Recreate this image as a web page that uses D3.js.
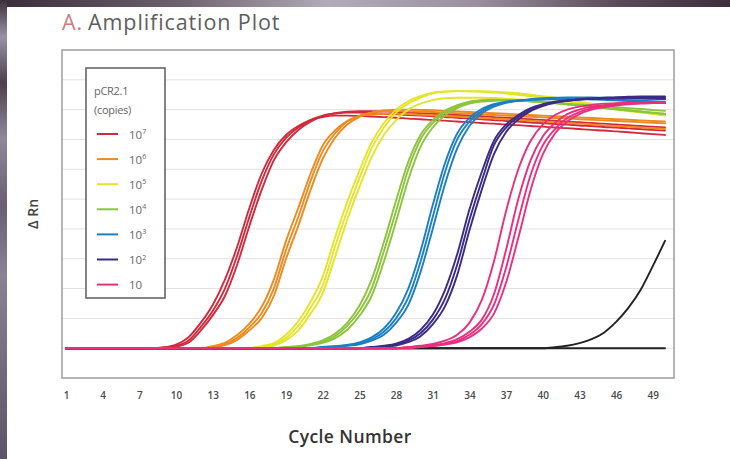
<!DOCTYPE html>
<html><head><meta charset="utf-8">
<script src="https://cdn.jsdelivr.net/npm/d3@7"></script>
<style>html,body{margin:0;padding:0;background:#fff;}svg{display:block;}</style>
</head><body>
<svg id="chart" width="730" height="459"></svg>
<script>
// ---------- data ----------
const cycles = d3.range(1, 51);
const xTicks = [1,4,7,10,13,16,19,22,25,28,31,34,37,40,43,46,49];
const legendTitle = ["pCR2.1", "(copies)"];
const legendBase = ["10","10","10","10","10","10","10"];
const legendExp  = ["7","6","5","4","3","2",""];
const seriesNames = ["1e7","1e6","1e5","1e4","1e3","1e2","1e1"];
const seriesColors = ["#d02a3c","#ee8a1e","#e4e42a","#8cc43c","#1b7fc4","#3b2b86","#e8307e"];
const ntcColor = "#222222";

const red1 = [0,0,0,0,0,0,0,0,0.02,0.08,0.25,0.7,1.25,2.0,3.1,4.4,5.6,6.5,7.05,7.4,7.65,7.8,7.87,7.9,7.9,7.88,7.86,7.84,7.82,7.8,7.78,7.75,7.73,7.7,7.68,7.65,7.62,7.6,7.57,7.55,7.52,7.5,7.47,7.45,7.42,7.4,7.37,7.35,7.32,7.3];
const red2 = [0,0,0,0,0,0,0,0,0.03,0.12,0.36,0.84,1.45,2.3,3.4,4.7,5.85,6.65,7.15,7.45,7.65,7.75,7.8,7.8,7.79,7.77,7.75,7.73,7.7,7.68,7.65,7.63,7.6,7.58,7.55,7.53,7.5,7.48,7.45,7.43,7.4,7.38,7.35,7.32,7.3,7.27,7.24,7.21,7.18,7.15];
const red3 = [0,0,0,0,0,0,0,0,0.01,0.05,0.18,0.58,1.1,1.75,2.8,4.1,5.3,6.3,6.9,7.32,7.6,7.78,7.88,7.93,7.95,7.95,7.94,7.92,7.9,7.88,7.86,7.84,7.82,7.8,7.78,7.75,7.73,7.7,7.68,7.65,7.63,7.6,7.58,7.55,7.53,7.5,7.48,7.45,7.43,7.4];

const orange1 = [0,0,0,0,0,0,0,0,0,0,0,0,0.05,0.13,0.35,0.7,1.17,2.0,3.3,4.4,5.6,6.6,7.2,7.6,7.8,7.9,7.95,7.95,7.94,7.93,7.92,7.9,7.88,7.86,7.84,7.82,7.8,7.78,7.76,7.74,7.72,7.7,7.68,7.66,7.64,7.62,7.6,7.58,7.56,7.54];
const orange2 = [0,0,0,0,0,0,0,0,0,0,0,0,0.07,0.18,0.44,0.82,1.38,2.3,3.6,4.7,5.85,6.8,7.3,7.62,7.78,7.84,7.86,7.86,7.85,7.83,7.81,7.79,7.77,7.75,7.72,7.7,7.68,7.65,7.63,7.6,7.58,7.55,7.53,7.5,7.48,7.45,7.43,7.4,7.38,7.35];
const orange3 = [0,0,0,0,0,0,0,0,0,0,0,0,0.03,0.1,0.28,0.6,1.0,1.75,3.0,4.1,5.3,6.35,7.05,7.5,7.76,7.9,7.97,8.0,8.0,7.99,7.98,7.96,7.94,7.92,7.9,7.88,7.86,7.84,7.82,7.8,7.78,7.76,7.74,7.72,7.7,7.68,7.66,7.64,7.62,7.6];

const yellow1 = [0,0,0,0,0,0,0,0,0,0,0,0,0,0,0,0,0.05,0.12,0.35,0.75,1.35,2.1,3.4,4.6,5.7,6.7,7.4,7.9,8.2,8.4,8.55,8.6,8.62,8.62,8.62,8.6,8.58,8.55,8.5,8.45,8.4,8.33,8.26,8.2,8.13,8.06,8.0,7.94,7.88,7.82];
const yellow2 = [0,0,0,0,0,0,0,0,0,0,0,0,0,0,0,0,0.07,0.17,0.45,0.9,1.55,2.4,3.7,4.9,5.95,6.9,7.55,8.0,8.28,8.45,8.57,8.61,8.62,8.61,8.6,8.57,8.54,8.5,8.45,8.4,8.34,8.28,8.22,8.16,8.1,8.04,7.98,7.92,7.86,7.8];
const yellow3 = [0,0,0,0,0,0,0,0,0,0,0,0,0,0,0,0,0,0.09,0.27,0.6,1.15,1.85,3.05,4.3,5.4,6.4,7.15,7.65,8.0,8.2,8.32,8.38,8.4,8.4,8.4,8.39,8.37,8.34,8.31,8.27,8.23,8.19,8.15,8.1,8.05,8.0,7.95,7.9,7.86,7.82];

const green1 = [0,0,0,0,0,0,0,0,0,0,0,0,0,0,0,0,0,0,0.03,0.06,0.12,0.22,0.4,0.75,1.25,2.0,3.25,4.6,6.0,7.0,7.55,7.9,8.1,8.25,8.3,8.32,8.32,8.3,8.28,8.25,8.22,8.18,8.14,8.1,8.06,8.02,7.98,7.94,7.9,7.86];
const green2 = [0,0,0,0,0,0,0,0,0,0,0,0,0,0,0,0,0,0,0.04,0.07,0.14,0.26,0.48,0.85,1.42,2.3,3.55,4.95,6.25,7.15,7.65,7.97,8.15,8.27,8.32,8.33,8.32,8.3,8.28,8.25,8.21,8.17,8.13,8.09,8.05,8.01,7.97,7.93,7.89,7.85];
const green3 = [0,0,0,0,0,0,0,0,0,0,0,0,0,0,0,0,0,0,0.02,0.05,0.1,0.18,0.33,0.62,1.08,1.75,2.9,4.25,5.65,6.75,7.4,7.8,8.05,8.2,8.27,8.3,8.31,8.3,8.28,8.26,8.23,8.2,8.17,8.14,8.11,8.08,8.05,8.02,7.99,7.96];

const blue1 = [0,0,0,0,0,0,0,0,0,0,0,0,0,0,0,0,0,0,0,0,0,0.03,0.06,0.1,0.15,0.3,0.55,1.0,1.7,2.9,4.4,5.9,7.0,7.6,7.95,8.15,8.25,8.3,8.33,8.35,8.36,8.37,8.37,8.36,8.35,8.34,8.32,8.3,8.28,8.26];
const blue2 = [0,0,0,0,0,0,0,0,0,0,0,0,0,0,0,0,0,0,0,0,0,0.04,0.07,0.11,0.19,0.36,0.66,1.18,2.0,3.25,4.8,6.2,7.2,7.72,8.02,8.18,8.27,8.31,8.33,8.34,8.35,8.35,8.35,8.34,8.33,8.31,8.29,8.27,8.25,8.22];
const blue3 = [0,0,0,0,0,0,0,0,0,0,0,0,0,0,0,0,0,0,0,0,0,0.02,0.05,0.08,0.13,0.25,0.45,0.85,1.45,2.55,4.0,5.5,6.7,7.45,7.87,8.1,8.23,8.3,8.35,8.38,8.4,8.41,8.41,8.41,8.4,8.39,8.38,8.37,8.36,8.35];

const purple1 = [0,0,0,0,0,0,0,0,0,0,0,0,0,0,0,0,0,0,0,0,0,0,0,0,0,0.03,0.06,0.12,0.25,0.5,0.95,1.65,2.8,4.3,5.6,6.8,7.4,7.75,8.0,8.15,8.25,8.3,8.34,8.36,8.38,8.39,8.4,8.4,8.4,8.4];
const purple2 = [0,0,0,0,0,0,0,0,0,0,0,0,0,0,0,0,0,0,0,0,0,0,0,0,0,0.04,0.08,0.15,0.31,0.61,1.12,1.95,3.15,4.65,5.9,6.95,7.5,7.82,8.05,8.18,8.27,8.31,8.34,8.36,8.37,8.38,8.38,8.38,8.37,8.36];
const purple3 = [0,0,0,0,0,0,0,0,0,0,0,0,0,0,0,0,0,0,0,0,0,0,0,0,0,0.02,0.05,0.09,0.2,0.4,0.8,1.4,2.45,3.95,5.3,6.5,7.25,7.67,7.95,8.12,8.23,8.3,8.35,8.38,8.4,8.42,8.43,8.44,8.44,8.44];

const pink1 = [0,0,0,0,0,0,0,0,0,0,0,0,0,0,0,0,0,0,0,0,0,0,0,0,0,0,0,0,0.03,0.06,0.1,0.17,0.3,0.55,0.95,1.8,3.3,5.0,6.3,7.1,7.55,7.85,8.0,8.1,8.15,8.2,8.22,8.23,8.24,8.24];
const pink2 = [0,0,0,0,0,0,0,0,0,0,0,0,0,0,0,0,0,0,0,0,0,0,0,0,0,0,0,0,0.04,0.08,0.14,0.25,0.45,0.85,1.6,2.9,4.6,6.0,6.95,7.5,7.82,8.0,8.1,8.16,8.2,8.22,8.23,8.24,8.24,8.24];
const pink3 = [0,0,0,0,0,0,0,0,0,0,0,0,0,0,0,0,0,0,0,0,0,0,0,0,0,0,0,0,0.02,0.05,0.08,0.14,0.24,0.45,0.8,1.45,2.7,4.3,5.8,6.8,7.35,7.72,7.92,8.05,8.12,8.17,8.2,8.22,8.23,8.24];
const pink4 = [0,0,0,0,0,0,0,0,0,0,0,0,0,0,0,0,0,0,0,0,0,0,0,0,0,0,0,0,0,0.04,0.07,0.12,0.2,0.36,0.65,1.15,2.2,3.7,5.3,6.5,7.2,7.6,7.85,8.0,8.08,8.14,8.18,8.2,8.22,8.23];

const ntcFlat = [0,0,0,0,0,0,0,0,0,0,0,0,0,0,0,0,0,0,0,0,0,0,0,0,0,0,0,0,0,0,0,0,0,0,0,0,0,0,0,0,0,0,0,0,0,0,0,0,0,0];
const ntcRise = [0,0,0,0,0,0,0,0,0,0,0,0,0,0,0,0,0,0,0,0,0,0,0,0,0,0,0,0,0,0,0,0,0,0,0,0,0,0,0,0,0.03,0.08,0.17,0.3,0.52,0.88,1.35,1.95,2.75,3.6];

const replicates = [
  [red1, red2, red3],
  [orange1, orange2, orange3],
  [yellow1, yellow2, yellow3],
  [green1, green2, green3],
  [blue1, blue2, blue3],
  [purple1, purple2, purple3],
  [pink1, pink2, pink3, pink4]
];

// ---------- drawing ----------
const svg = d3.select("#chart");
const W = 730, H = 459;

// dark slide background border
const defs = svg.append("defs");
const gTop = defs.append("linearGradient").attr("id","gTop").attr("x1","0").attr("x2","1").attr("y1","0").attr("y2","0");
[["0%","#3a2c38"],["25%","#6e6270"],["45%","#b3abb9"],["65%","#9a90a0"],["85%","#5a4a58"],["100%","#3e2e3c"]]
  .forEach(s => gTop.append("stop").attr("offset", s[0]).attr("stop-color", s[1]));
const gLeft = defs.append("linearGradient").attr("id","gLeft").attr("x1","0").attr("x2","0").attr("y1","0").attr("y2","1");
[["0%","#3e2e3c"],["8%","#9a92a4"],["18%","#4e3e4c"],["30%","#8f879a"],["45%","#6a5e70"],["60%","#8a8294"],["80%","#746a7e"],["100%","#5e5466"]]
  .forEach(s => gLeft.append("stop").attr("offset", s[0]).attr("stop-color", s[1]));
svg.append("rect").attr("x",0).attr("y",0).attr("width",W).attr("height",7).attr("fill","url(#gTop)");
svg.append("rect").attr("x",0).attr("y",0).attr("width",7).attr("height",H).attr("fill","url(#gLeft)");
svg.append("rect").attr("x",7).attr("y",7).attr("width",W-7).attr("height",H-7).attr("fill","#ffffff");

const frame = {left:62, right:674, top:50, bottom:378};
const x = d3.scaleLinear().domain([1, 50]).range([66, 665]);
const y = d3.scaleLinear().domain([-1, 10]).range([frame.bottom, frame.top]);

// title
const title = svg.append("text").attr("x", 62).attr("y", 30)
  .attr("font-family", "'Open Sans', sans-serif").attr("font-size", 21.5).attr("letter-spacing", 0.9);
title.append("tspan").attr("fill", "#cf7a86").text("A.");
title.append("tspan").attr("fill", "#5e5e5e").attr("dx", 5).text("Amplification Plot");

// gridlines
svg.append("g").selectAll("line").data(d3.range(0, 10))
  .join("line")
  .attr("x1", frame.left).attr("x2", frame.right)
  .attr("y1", d => y(d)).attr("y2", d => y(d))
  .attr("stroke", "#e2e2e2").attr("stroke-width", 1);

// curves
const line = d3.line().x((d, i) => x(cycles[i])).y(d => y(d)).curve(d3.curveMonotoneX);
const curvesG = svg.append("g").attr("fill", "none").attr("stroke-linejoin", "round").attr("stroke-linecap", "round");
function drawGroup(arrs, color) {
  curvesG.append("g").selectAll("path").data(arrs).join("path")
    .attr("d", line).attr("stroke", color).attr("stroke-width", 1.9);
}
for (let s = 0; s < 6; s++) drawGroup(replicates[s], seriesColors[s]);
drawGroup([ntcFlat, ntcRise], ntcColor);
drawGroup(replicates[6], seriesColors[6]);

// frame
svg.append("rect").attr("x", frame.left).attr("y", frame.top)
  .attr("width", frame.right - frame.left).attr("height", frame.bottom - frame.top)
  .attr("fill", "none").attr("stroke", "#a3a3a3").attr("stroke-width", 1.6);

// x axis labels
const xAxis = d3.axisBottom(x).tickValues(xTicks).tickSize(0).tickPadding(4).tickFormat(d3.format("d"));
const ax = svg.append("g").attr("transform", `translate(0,${388})`).call(xAxis);
ax.select(".domain").remove();
ax.selectAll("text").attr("font-family", "'Open Sans', sans-serif").attr("font-size", 10)
  .attr("font-weight", 600).attr("fill", "#4a4a4a");

// axis titles
svg.append("text").attr("x", 350).attr("y", 443).attr("text-anchor", "middle")
  .attr("font-family", "'Open Sans', sans-serif").attr("font-size", 17.5).attr("font-weight", 600)
  .attr("fill", "#333").attr("letter-spacing", 0.4).text("Cycle Number");
svg.append("text").attr("transform", "translate(38,214) rotate(-90)").attr("text-anchor", "middle")
  .attr("font-family", "'Open Sans', sans-serif").attr("font-size", 14).attr("font-weight", 600)
  .attr("fill", "#444").text("Δ Rn");

// legend
const lg = svg.append("g");
lg.append("rect").attr("x", 86).attr("y", 68).attr("width", 79).attr("height", 230)
  .attr("fill", "#fff").attr("stroke", "#666").attr("stroke-width", 1.6);
lg.selectAll("text.title").data(legendTitle).join("text").attr("class", "title")
  .attr("x", 94).attr("y", (d, i) => 95 + i * 19)
  .attr("font-family", "'Open Sans', sans-serif").attr("font-size", 11).attr("fill", "#666")
  .attr("letter-spacing", -0.3).text(d => d);
const rows = lg.selectAll("g.row").data(seriesNames).join("g").attr("class", "row")
  .attr("transform", (d, i) => `translate(0,${134 + i * 25.1})`);
rows.append("line").attr("x1", 97).attr("x2", 118).attr("y1", 0).attr("y2", 0)
  .attr("stroke", (d, i) => seriesColors[i]).attr("stroke-width", 2);
const lt = rows.append("text").attr("x", 129).attr("y", 4.5)
  .attr("font-family", "'Open Sans', sans-serif").attr("font-size", 11.5).attr("fill", "#666");
lt.append("tspan").text((d, i) => legendBase[i]);
lt.append("tspan").attr("font-size", 7).attr("dy", -4.5).text((d, i) => legendExp[i]);
</script>
</body></html>
